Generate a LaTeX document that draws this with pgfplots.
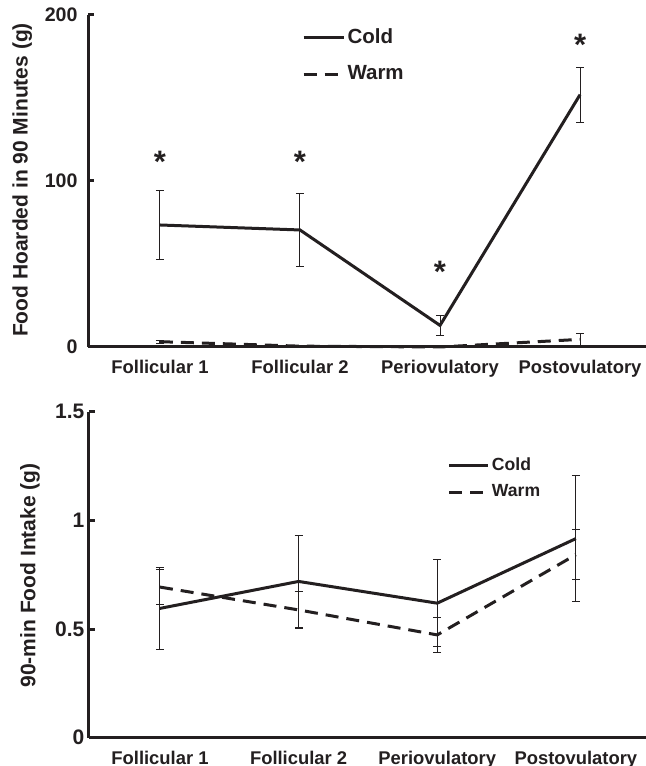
\documentclass[border=0pt]{standalone}
\usepackage{fontspec}
\setmainfont{Liberation Sans}
\usepackage{pgfplots}
\pgfplotsset{compat=1.18}
\definecolor{ink}{RGB}{35,31,32}

\pgfplotstableread{
x  cold   coldErr  warm   warmErr
0  73.5   20.5     3.2    0.8
1  70.5   22.0     0.5    0.0
2  13.0    6.0     0.0    0.0
3  152.0  16.5     4.6    3.5
}\hoardtable

\pgfplotstableread{
x  star
0  111.5
1  111.5
2  45.5
3  182.0
}\hoardstars

\pgfplotstableread{
x  cold   coldErr  warm   warmErr
0  0.595  0.190    0.693  0.080
1  0.719  0.210    0.588  0.085
2  0.619  0.200    0.473  0.080
3  0.916  0.290    0.842  0.115
}\intaketable

\pgfplotsset{
  phase axis/.style={
    scale only axis,
    axis lines=left,
    axis line style={-, line width=1.5pt, ink},
    clip=false,
    tick align=inside,
    major tick length=3pt,
    xtick={0,1,2,3},
    xticklabels={Follicular 1, Follicular 2, Periovulatory, Postovulatory},
    x tick style={draw=none},
    y tick style={line width=1.5pt, ink},
    /pgf/number format/assume math mode=true,
    xticklabel style={font=\bfseries\fontsize{9.2}{10}\selectfont, text=ink, yshift=-3pt},
    ylabel style={font=\bfseries\fontsize{10.5}{12}\selectfont, text=ink, anchor=center},
    legend cell align=left,
    legend style={draw=none, fill=none, inner xsep=0pt, inner ysep=0pt,
      anchor=north west, nodes={inner xsep=1.2pt}},
  },
  cold line/.style={ink, line width=1.5pt, solid},
  warm line/.style={ink, line width=1.5pt, dash pattern=on 6.5pt off 4pt},
  bars/.style={
    error bars/.cd, y dir=both, y explicit,
    error bar style={line width=0.5pt, ink, solid},
    error mark options={rotate=90, mark size=2pt, line width=0.5pt, ink, solid},
  },
}

\begin{document}
\begin{tikzpicture}

% upper panel: food hoarded
\begin{axis}[phase axis,
  at={(44pt,209.5pt)}, anchor=south west,
  width=279pt, height=166pt,
  xmin=-0.514, xmax=3.471, ymin=0, ymax=200,
  ytick={0,100,200},
  yticklabel style={font=\bfseries\fontsize{9.8}{10}\selectfont, text=ink, xshift=-1.7pt},
  ylabel={Food Hoarded in 90 Minutes (g)},
  ylabel style={at={(axis description cs:-0.118,0.503)}},
  legend style={at={(axis description cs:0.383,0.972)},
    font=\bfseries\fontsize{10.25}{12}\selectfont, text=ink,
    row sep=5.5pt},
  legend image code/.code={\draw[#1] (0pt,0pt) -- (20pt,0pt);},
]
\addplot[cold line, bars] table[x=x, y=cold, y error=coldErr] {\hoardtable};
\addlegendentry{Cold}
\addplot[warm line, bars] table[x=x, y=warm, y error=warmErr] {\hoardtable};
\addlegendentry{Warm}
\addplot[only marks, mark=text, forget plot,
  text mark as node=true,
  text mark={*}, text mark style={font=\bfseries\fontsize{15.5}{15.5}\selectfont, text=ink, inner sep=0pt}]
  table[x=x, y=star] {\hoardstars};
\end{axis}

% lower panel: food intake
\begin{axis}[phase axis,
  at={(44.5pt,14.15pt)}, anchor=south west,
  width=278.5pt, height=163pt,
  xmin=-0.512, xmax=3.506, ymin=0, ymax=1.5,
  ytick={0,0.5,1,1.5},
  yticklabels={0,0.5,1,1.5},
  yticklabel style={font=\bfseries\fontsize{10.5}{11}\selectfont, text=ink, xshift=1.2pt},
  ylabel={90-min Food Intake (g)},
  ylabel style={at={(axis description cs:-0.106,0.498)}},
  legend style={at={(axis description cs:0.643,0.873)},
    font=\bfseries\fontsize{8.8}{10}\selectfont, text=ink,
    row sep=1.8pt},
  legend image code/.code={\draw[#1] (0pt,0pt) -- (19.5pt,0pt);},
]
\addplot[cold line, bars] table[x=x, y=cold, y error=coldErr] {\intaketable};
\addlegendentry{Cold}
\addplot[warm line, bars] table[x=x, y=warm, y error=warmErr] {\intaketable};
\addlegendentry{Warm}
\end{axis}

\pgfresetboundingbox
\path (0pt,0pt) rectangle (323pt,383pt);
\end{tikzpicture}
\end{document}
